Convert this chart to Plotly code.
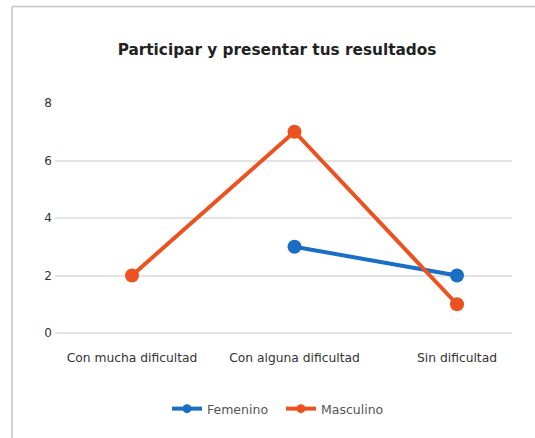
import plotly.graph_objects as go

categories = ["Con mucha dificultad", "Con alguna dificultad", "Sin dificultad"]
femenino = [None, 3, 2]
masculino = [2, 7, 1]
y_ticks = [0, 2, 4, 6, 8]

W, H = 535, 438
L, R, T, B = 55, 23, 103, 105
pw, ph = W - L - R, H - T - B

BLUE = "#1a6fc4"
ORANGE = "#ec5220"
FONT = "DejaVu Sans"

fig = go.Figure()
for name, vals, col in [("Femenino", femenino, BLUE), ("Masculino", masculino, ORANGE)]:
    fig.add_trace(go.Scatter(
        x=[0, 1, 2], y=vals, name=name, mode="lines+markers", showlegend=False,
        legendgroup=name,
        line=dict(color=col, width=4), marker=dict(size=14, color=col)))
    # legend entry with smaller marker
    fig.add_trace(go.Scatter(
        x=[None], y=[None], name=name, mode="lines+markers", legendgroup=name,
        line=dict(color=col, width=4), marker=dict(size=9, color=col)))

bx = (12 - L) / pw
by = 1 + (T - 6.5) / ph
fig.add_shape(type="line", xref="paper", yref="paper", x0=bx, x1=bx, y0=-1, y1=by,
              line=dict(color="#c4c4c4", width=1.5))
fig.add_shape(type="line", xref="paper", yref="paper", x0=bx, x1=1.2, y0=by, y1=by,
              line=dict(color="#c4c4c4", width=1.5))

fig.update_layout(
    width=W, height=H,
    margin=dict(l=L, r=R, t=T, b=B),
    paper_bgcolor="white", plot_bgcolor="white",
    font=dict(family=FONT, color="#333333", size=11),
    title=dict(text="<b>Participar y presentar tus resultados</b>",
               x=277 / W, xanchor="center", y=1 - 50 / H, yanchor="middle",
               font=dict(size=15.3, color="#222222", family=FONT)),
    showlegend=True,
    legend=dict(orientation="h", x=(281 - L) / pw, xanchor="center",
                y=(T + ph - 409) / ph, yanchor="middle",
                font=dict(size=12.5, color="#555555"), itemwidth=30,
                entrywidth=69, entrywidthmode="pixels"),
    xaxis=dict(range=[-(132 - L) / 162.5, 2 + (512 - 457) / 162.5],
               tickmode="array", tickvals=[0, 1, 2], ticktext=categories,
               showgrid=False, zeroline=False, showline=False,
               ticklabelstandoff=16, tickfont=dict(size=12.3, color="#333333")),
    yaxis=dict(range=[0, 8], tickmode="array", tickvals=y_ticks,
               showgrid=True, gridcolor="#e3e3e3", gridwidth=1.5,
               zeroline=True, zerolinecolor="#e3e3e3", zerolinewidth=1.5,
               showline=False, ticklabelstandoff=2,
               tickfont=dict(size=12, color="#333333")),
)

fig.write_html("out.html", config={"displayModeBar": False},
               post_script="document.body.style.margin='0';document.body.style.overflow='hidden';")
